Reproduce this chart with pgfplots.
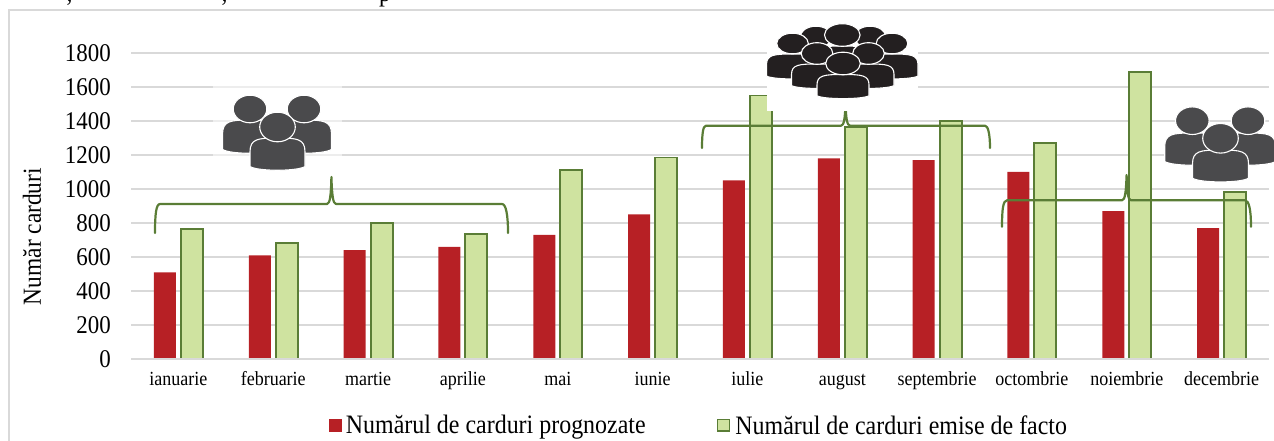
\documentclass[border=0pt]{standalone}
\usepackage{pgfplots}
\pgfplotsset{compat=1.18}
\usepackage{fontspec}
\setmainfont[FakeStretch=0.9]{Liberation Serif}
\definecolor{redbar}{HTML}{B72025}
\definecolor{greenbar}{HTML}{CFE3A0}
\definecolor{greenedge}{HTML}{5A7D36}
\definecolor{gridgray}{HTML}{D9D9D9}
\definecolor{icongray}{HTML}{4A4A4C}
\definecolor{iconblack}{HTML}{231F20}
% \person{color}{cx}{head cy}{head rx}{head ry}{body half width}{body top}{body bottom}
\newcommand{\person}[8]{%
  \pgfmathsetmacro{\pL}{#2-#6}\pgfmathsetmacro{\pR}{#2+#6}%
  \pgfmathsetmacro{\pH}{#8-#7}%
  \pgfmathsetmacro{\pA}{#7+0.45*\pH}\pgfmathsetmacro{\pB}{#7+0.03*\pH}%
  \pgfmathsetmacro{\pC}{#2-0.72*#6}\pgfmathsetmacro{\pD}{#2+0.72*#6}%
  \pgfmathsetmacro{\pE}{#8-0.08*\pH}\pgfmathsetmacro{\pF}{#8+0.08*\pH}%
  \fill[#1,draw=white,line width=1.1pt] (\pL,\pE) -- (\pL,\pA) .. controls (\pL,\pB) and (\pC,#7) .. (#2,#7)
     .. controls (\pD,#7) and (\pR,\pB) .. (\pR,\pA) -- (\pR,\pE)
     .. controls (\pD,\pF) and (\pC,\pF) .. cycle;
  \fill[#1,draw=white,line width=1.1pt] (#2,#3) ellipse [x radius=#4+0.8, y radius=#5+0.8];
}
\newcommand{\headonly}[5]{\fill[#1,draw=white,line width=1.1pt] (#2,#3) ellipse [x radius=#4+0.8, y radius=#5+0.8];}
\pgfplotstableread{
x prog emise
0 510 765
1 610 680
2 640 800
3 660 735
4 730 1110
5 850 1185
6 1050 1550
7 1180 1365
8 1170 1400
9 1100 1270
10 870 1690
11 770 980
}\carddata
\begin{document}
\begin{tikzpicture}
\path[use as bounding box] (0pt,0pt) rectangle (1274pt,441pt);
\clip (0pt,0pt) rectangle (1274pt,441pt);
\begin{axis}[
  at={(131pt,82pt)}, anchor=south west,
  scale only axis, width=1138pt, height=306pt,
  xmin=-0.5, xmax=11.5, ymin=0, ymax=1800,
  clip=false,
  axis line style={draw=none},
  major tick length=0pt,
  ymajorgrids, grid style={gridgray,line width=1.6pt},
  ytick={0,200,400,600,800,1000,1200,1400,1600,1800},
  xtick=data,
  xticklabels={ianuarie,februarie,martie,aprilie,mai,iunie,iulie,august,septembrie,octombrie,noiembrie,decembrie},
  /pgf/number format/assume math mode=true,
  /pgf/number format/1000 sep={},
  yticklabel style={font=\fontsize{25.5}{29}\selectfont,inner sep=0pt,xshift=-20pt},
  xticklabel style={font=\fontsize{20}{24}\selectfont,inner sep=0pt,yshift=-12pt,text height=14pt,text depth=5pt},
  ylabel={Număr carduri},
  ylabel style={font=\fontsize{26}{30}\selectfont,at={(axis description cs:-0.087,0.4)},anchor=center,inner sep=0pt},
  legend style={draw=none,fill=none,inner sep=0pt,at={(axis description cs:0.4991,-0.217)},anchor=center,
    legend columns=2,font=\fontsize{26.6}{30}\selectfont,
    /tikz/every even column/.append style={column sep=69pt}},
  legend cell align=left,
]
\addplot[ybar,bar width=22pt,bar shift=-13.5pt,fill=redbar,draw=none,
  legend image code/.code={\fill[redbar] (0pt,-6.5pt) rectangle (13pt,6.5pt);\path (15pt,0pt);}]
  table[x=x,y=prog]{\carddata};
\addlegendentry{Numărul de carduri prognozate}
\addplot[ybar,bar width=22pt,bar shift=13.5pt,fill=greenbar,draw=greenedge,line width=1.9pt,
  legend image code/.code={\filldraw[fill=greenbar,draw=greenedge,line width=1.5pt] (0pt,-5.8pt) rectangle (12pt,5.8pt);\path (15pt,0pt);}]
  table[x=x,y=emise]{\carddata};
\addlegendentry{Numărul de carduri emise de facto}
\end{axis}
% the zero line lies over the feet of the bars
\draw[gridgray,line width=1.8pt] (131pt,82pt) -- (1269pt,82pt);
\begin{scope}[x=1pt,y=-1pt,shift={(0pt,441pt)}]
  % chart frame
  \draw[gridgray,line width=2pt] (9,441) -- (9,10.5) -- (1274,10.5);
  % clipped line of text above the figure
  \node[anchor=base,inner sep=0pt,font=\fontsize{26}{30}\selectfont] at (69.5,1.5) {,};
  \node[anchor=base,inner sep=0pt,font=\fontsize{26}{30}\selectfont] at (224.5,1.5) {,};
  \node[anchor=base,inner sep=0pt,font=\fontsize{26}{30}\selectfont] at (385,1.5) {p};
  % braces
  \begin{scope}[greenedge,line width=2.2pt,line cap=round,line join=round]
    \draw (155,233) .. controls (155,215) and (156,204) .. (160,204) -- (327,204)
      .. controls (330,204) and (331,195) .. (331.4,177)
      .. controls (332,195) and (333,204) .. (336,204) -- (502,204)
      .. controls (506,204) and (508,215) .. (508,233);
    \draw (702,148) .. controls (702,134) and (703,125.7) .. (706,125.7) -- (841,125.7)
      .. controls (844,125.7) and (845,118) .. (845.5,103.7)
      .. controls (846,118) and (847,125.7) .. (850,125.7) -- (985,125.7)
      .. controls (988,125.7) and (990,134) .. (990,148);
    \draw (1002,226.7) .. controls (1002,210) and (1003,200.3) .. (1007,200.3) -- (1122,200.3)
      .. controls (1125,200.3) and (1126,192) .. (1126.6,175)
      .. controls (1127,192) and (1128,200.3) .. (1131,200.3) -- (1245,200.3)
      .. controls (1249,200.3) and (1251,210) .. (1251,226.7);
  \end{scope}
  % white patches behind the icons
  \fill[white,opacity=0.55] (213,86) rectangle (342,156);
  \fill[white] (767,16) rectangle (918,111);
  % left icon
  \person{icongray}{250}{109}{16}{13}{27.5}{120}{152}
  \person{icongray}{304}{109}{16}{13}{27.5}{120}{152}
  \person{icongray}{277.5}{127}{17}{14}{27.5}{138}{169}
  % crowd icon
  \headonly{iconblack}{816}{37}{15}{10}
  \headonly{iconblack}{870}{37}{15}{10}
  \person{iconblack}{842.3}{35}{17}{10.5}{26}{46}{70}
  \person{iconblack}{792.5}{43.5}{15}{9.5}{26}{54}{78}
  \person{iconblack}{892}{43.5}{15}{9.5}{26}{54}{78}
  \person{iconblack}{817}{53.5}{15}{10}{25.5}{64}{87.5}
  \person{iconblack}{868.5}{53.5}{15}{10}{25.5}{64}{87.5}
  \person{iconblack}{843}{63.5}{16.5}{10.5}{26}{74.5}{97.7}
  % right icon
  \person{icongray}{1192.3}{120.7}{16}{13}{27.6}{133}{164}
  \person{icongray}{1248}{120.7}{16}{13}{27.6}{133}{164}
  \person{icongray}{1220.5}{138.3}{17}{14}{28}{150}{180.7}
\end{scope}
\end{tikzpicture}
\end{document}
